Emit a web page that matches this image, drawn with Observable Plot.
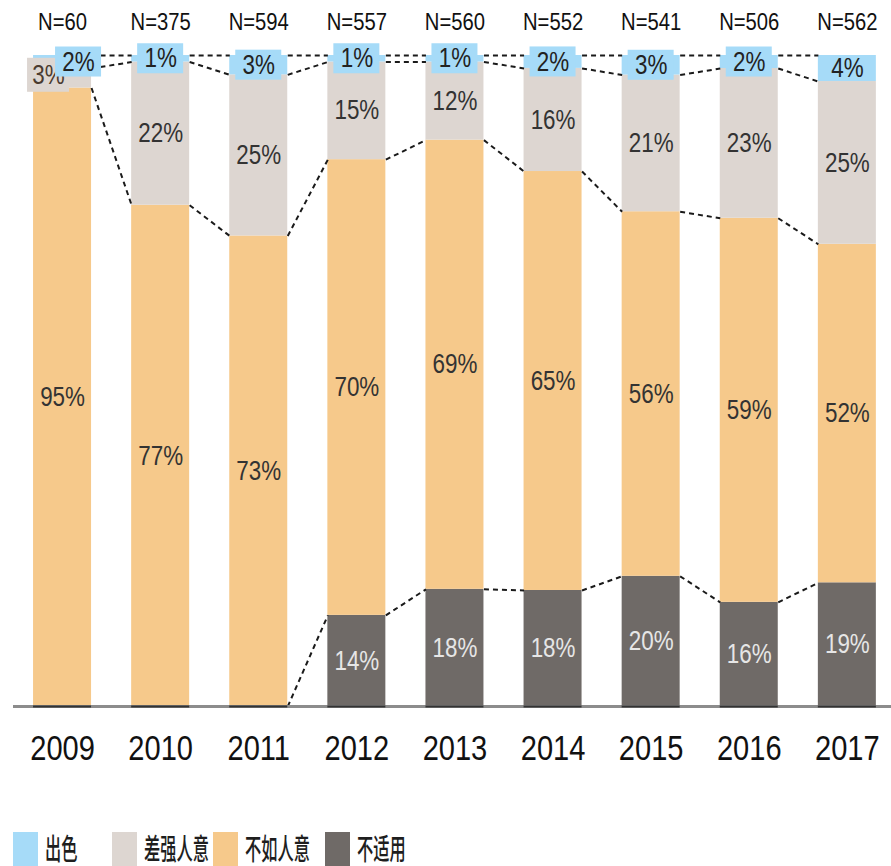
<!DOCTYPE html>
<html>
<head>
<meta charset="utf-8">
<script src="https://cdn.jsdelivr.net/npm/d3@7"></script>
<script src="https://cdn.jsdelivr.net/npm/@observablehq/plot@0.6"></script>
<style>
  html, body { margin: 0; padding: 0; background: #fff; }
  #chart { position: relative; width: 891px; height: 866px; overflow: hidden; }
  .sw { position: absolute; top: 832px; width: 25px; height: 34px; }
  .lt { position: absolute; top: 831px; font-family: "Noto Sans CJK SC", sans-serif; font-size: 29px; line-height: 32px;
        color: #1e1e1e; font-weight: 500; white-space: nowrap; transform: scaleX(0.56); transform-origin: left center; }
</style>
</head>
<body>
<div id="chart"></div>
<script>
// ---- data ----
const years = [2009, 2010, 2011, 2012, 2013, 2014, 2015, 2016, 2017];
const nLabels = ["N=60", "N=375", "N=594", "N=557", "N=560", "N=552", "N=541", "N=506", "N=562"];
const categories = ["出色", "差强人意", "不如人意", "不适用"];
const excellent = [2, 1, 3, 1, 1, 2, 3, 2, 4];        // 出色
const passable  = [3, 22, 25, 15, 12, 16, 21, 23, 25]; // 差强人意
const poor      = [95, 77, 73, 70, 69, 65, 56, 59, 52]; // 不如人意
const na        = [0, 0, 0, 14, 18, 18, 20, 16, 19];    // 不适用
const colors = ["#a6dbf8", "#ddd6d1", "#f6c98b", "#6f6a67"];

// ---- build stacked table (bottom to top: 不适用, 不如人意, 差强人意, 出色) ----
const stackSeries = [na, poor, passable, excellent];
const stackNames = ["不适用", "不如人意", "差强人意", "出色"];
const rows = [];
const cum = [];
years.forEach((yr, i) => {
  const total = stackSeries.reduce((s, a) => s + a[i], 0);
  let c = 0;
  const b = [0];
  stackSeries.forEach((arr, k) => {
    const v = arr[i];
    rows.push({year: yr, cat: stackNames[k], value: v, y1: c / total, y2: (c + v) / total, k, i});
    c += v;
    b.push(c / total);
  });
  cum.push(b);
});

const W = 891, H = 800;
const marginLeft = 13, marginRight = 0, marginTop = 55, marginBottom = 94;
const pxPerYear = (W - marginLeft - marginRight) / 8.95;
const pxPerUnit = H - marginTop - marginBottom;
const HW = 29 / pxPerYear;       // half bar width (years)
const BW = 23 / pxPerYear;       // half label-box width
const BH = 15 / pxPerUnit;       // half label-box height

// dashed connectors between adjacent bars at each boundary
const links = [];
for (let i = 0; i < years.length - 1; i++) {
  for (let j = 1; j <= 4; j++) {
    links.push({x1: years[i] + HW, x2: years[i + 1] - HW, y1: cum[i][j], y2: cum[i + 1][j]});
  }
}

const mid = d => (d.y1 + d.y2) / 2;
const inner = rows.filter(d => (d.cat === "不如人意" || d.cat === "差强人意" || d.cat === "不适用") && d.value > 0 && !(d.year === 2009 && d.cat === "差强人意"));
const special = rows.filter(d => d.year === 2009 && d.cat === "差强人意");
const blue = rows.filter(d => d.cat === "出色");
const blueBoxes = blue.filter(d => d.value < 4);
const shiftX = d => (d.year === 2009 ? 16 / pxPerYear : 0);
const spX = -14 / pxPerYear, spY = 3 / pxPerUnit;

const plot = Plot.plot({
  width: W, height: H,
  marginLeft, marginRight, marginTop, marginBottom,
  style: {fontFamily: "'Liberation Sans', Arial, sans-serif", background: "#fff"},
  x: {domain: [2008.5, 2017.45], axis: null},
  y: {domain: [0, 1], axis: null},
  color: {domain: stackNames, range: [colors[3], colors[2], colors[1], colors[0]]},
  marks: [
    Plot.rectY(rows, {x1: d => d.year - HW, x2: d => d.year + HW, y1: "y1", y2: "y2", fill: "cat"}),
    Plot.link(links, {x1: "x1", x2: "x2", y1: "y1", y2: "y2", stroke: "#1a1a1a", strokeWidth: 2, strokeDasharray: "5,4"}),
    Plot.ruleY([0], {stroke: "#8c8c8c", strokeWidth: 3}),
    Plot.ruleY(years, {x1: d => d - HW, x2: d => d + HW, y: () => 0, stroke: "#333", strokeWidth: 2}),
    // in-segment percentage labels
    Plot.text(inner, {x: "year", y: mid, text: d => d.value + "%", fontSize: 27,
      fill: d => d.cat === "不适用" ? "#e6e6e6" : "#333"}),
    // 2009 差强人意 label with its own box
    Plot.rect(special, {x1: d => d.year + spX - 21 / pxPerYear, x2: d => d.year + spX + 21 / pxPerYear,
      y1: d => mid(d) + spY - 17 / pxPerUnit, y2: d => mid(d) + spY + 17 / pxPerUnit, fill: colors[1]}),
    Plot.text(special, {x: d => d.year + spX, y: d => mid(d) + spY, text: d => d.value + "%", fontSize: 27, fill: "#4a3b30"}),
    // 出色 label boxes
    Plot.rect(blueBoxes, {x1: d => d.year - BW + shiftX(d), x2: d => d.year + BW + shiftX(d),
      y1: d => mid(d) - BH, y2: d => mid(d) + BH, fill: colors[0]}),
    Plot.text(blue, {x: d => d.year + shiftX(d), y: mid, text: d => d.value + "%", fontSize: 27, fill: "#222"}),
    // N labels
    Plot.text(years, {x: d => d, y: () => 1, text: (d, i) => nLabels[i], dy: -33, fontSize: 23, fill: "#111"}),
    // year labels
    Plot.text(years, {x: d => d, y: () => 0, text: d => String(d), dy: 42, fontSize: 35, fill: "#111"})
  ]
});

const root = document.getElementById("chart");
root.appendChild(plot);

// narrow the text horizontally like the original condensed font
plot.querySelectorAll("text").forEach(t => {
  const g = t.closest("[font-size]");
  const fs = g ? parseFloat(g.getAttribute("font-size")) : 10;
  const f = fs === 23 ? 0.88 : 0.83;
  const L = t.getComputedTextLength();
  if (L > 0) {
    t.setAttribute("textLength", (L * f).toFixed(2));
    t.setAttribute("lengthAdjust", "spacingAndGlyphs");
  }
});

// legend (below the SVG)
const legendPos = [
  {sw: 13, tx: 45},
  {sw: 112, tx: 144},
  {sw: 213, tx: 245},
  {sw: 325, tx: 357}
];
categories.forEach((c, i) => {
  const s = document.createElement("div");
  s.className = "sw";
  s.style.left = legendPos[i].sw + "px";
  s.style.background = colors[i];
  root.appendChild(s);
  const t = document.createElement("div");
  t.className = "lt";
  t.style.left = legendPos[i].tx + "px";
  t.textContent = c;
  root.appendChild(t);
});
</script>
</body>
</html>
